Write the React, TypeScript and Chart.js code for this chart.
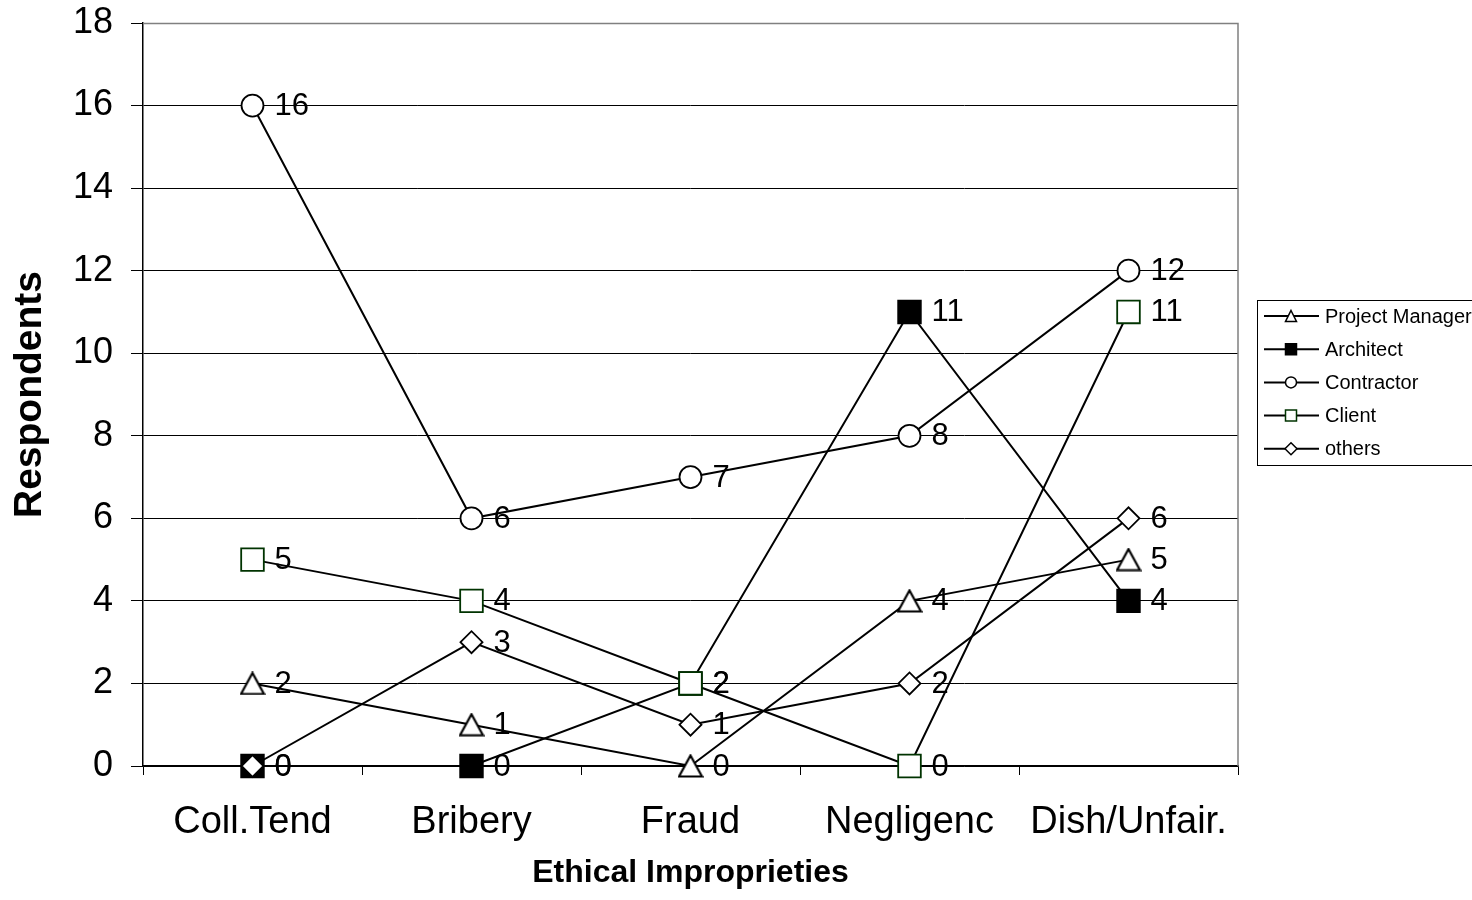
import React, { useEffect, useRef } from "react";
import { Chart, registerables } from "chart.js";

Chart.register(...registerables);

const categories = ["Coll.Tend", "Bribery", "Fraud", "Negligenc", "Dish/Unfair."];
const projectManager = [2, 1, 0, 4, 5];
const architect = [0, 0, 2, 11, 4];
const contractor = [16, 6, 7, 8, 12];
const client = [5, 4, 2, 0, 11];
const others = [0, 3, 1, 2, 6];
const seriesNames = ["Project Manager", "Architect", "Contractor", "Client", "others"];
const yTicks = [0, 2, 4, 6, 8, 10, 12, 14, 16, 18];

const FONT = "'Liberation Sans', Arial, sans-serif";

type Mk = { style: string; fill: string; stroke: string };
const markers: Mk[] = [
  { style: "triangle", fill: "#ffffff", stroke: "#000000" },
  { style: "rect", fill: "#000000", stroke: "#000000" },
  { style: "circle", fill: "#ffffff", stroke: "#000000" },
  { style: "rect", fill: "#ffffff", stroke: "#003300" },
  { style: "rectRot", fill: "#ffffff", stroke: "#000000" },
];

function drawMarker(ctx: CanvasRenderingContext2D, m: Mk, x: number, y: number, s: number) {
  ctx.save();
  ctx.fillStyle = m.fill;
  ctx.strokeStyle = m.stroke;
  ctx.lineWidth = 1.5;
  ctx.beginPath();
  if (m.style === "triangle") {
    ctx.moveTo(x, y - s);
    ctx.lineTo(x + s, y + s);
    ctx.lineTo(x - s, y + s);
    ctx.closePath();
  } else if (m.style === "rect") {
    ctx.rect(x - s, y - s, 2 * s, 2 * s);
  } else if (m.style === "circle") {
    ctx.arc(x, y, s, 0, Math.PI * 2);
  } else {
    ctx.moveTo(x, y - s - 0.5);
    ctx.lineTo(x + s + 0.5, y);
    ctx.lineTo(x, y + s + 0.5);
    ctx.lineTo(x - s - 0.5, y);
    ctx.closePath();
  }
  ctx.fill();
  ctx.stroke();
  ctx.restore();
}

function makeTriangle(): HTMLCanvasElement {
  const c = document.createElement("canvas");
  c.width = 26;
  c.height = 24;
  const ctx = c.getContext("2d")!;
  ctx.fillStyle = "#fff";
  ctx.strokeStyle = "#000";
  ctx.lineWidth = 2.2;
  ctx.beginPath();
  ctx.moveTo(13, 1.5);
  ctx.lineTo(24.5, 22.5);
  ctx.lineTo(1.5, 22.5);
  ctx.closePath();
  ctx.fill();
  ctx.stroke();
  return c;
}

const framePlugin = {
  id: "frame",
  beforeDatasetsDraw(chart: any) {
    const { ctx, chartArea: a } = chart;
    ctx.save();
    ctx.strokeStyle = "#808080";
    ctx.lineWidth = 1.5;
    ctx.beginPath();
    ctx.moveTo(a.left, a.top + 0.5);
    ctx.lineTo(a.right, a.top + 0.5);
    ctx.lineTo(a.right, a.bottom);
    ctx.stroke();
    ctx.restore();
  },
};

const labelsPlugin = {
  id: "pointLabels",
  afterDatasetsDraw(chart: any) {
    const { ctx } = chart;
    ctx.save();
    ctx.font = `31px ${FONT}`;
    ctx.fillStyle = "#000";
    ctx.textAlign = "left";
    ctx.textBaseline = "middle";
    chart.data.datasets.forEach((ds: any, di: number) => {
      const meta = chart.getDatasetMeta(di);
      meta.data.forEach((pt: any, i: number) => {
        ctx.fillText(String(ds.data[i]), pt.x + 22, pt.y + 1);
      });
    });
    ctx.restore();
  },
};

const legendPlugin = {
  id: "customLegend",
  afterDraw(chart: any) {
    const { ctx } = chart;
    const bx = 1257, by = 300, bw = 240, bh = 165;
    ctx.save();
    ctx.fillStyle = "#fff";
    ctx.fillRect(bx, by, bw, bh);
    ctx.strokeStyle = "#000";
    ctx.lineWidth = 1;
    ctx.strokeRect(bx + 0.5, by + 0.5, bw, bh);
    ctx.font = `20px ${FONT}`;
    ctx.textBaseline = "middle";
    ctx.textAlign = "left";
    seriesNames.forEach((name, i) => {
      const y = 316 + i * 33.2;
      ctx.strokeStyle = "#000";
      ctx.lineWidth = 2;
      ctx.beginPath();
      ctx.moveTo(1264, y);
      ctx.lineTo(1319, y);
      ctx.stroke();
      drawMarker(ctx, markers[i], 1291, y, 5.5);
      ctx.fillStyle = "#000";
      ctx.fillText(name, 1325, y + 1);
    });
    ctx.restore();
  },
};

export default function App() {
  const ref = useRef<HTMLCanvasElement>(null);
  useEffect(() => {
    document.body.style.margin = "0";
    const series = [projectManager, architect, contractor, client, others];
    const radii = [13, 16, 11, 16, 11];
    const orders = [4, 3, 2, 1, 0];
    const tri = makeTriangle();
    const chart = new Chart(ref.current!, {
      type: "line",
      data: {
        labels: categories,
        datasets: series.map((d, i) => ({
          label: seriesNames[i],
          data: d,
          borderColor: "#000",
          borderWidth: 2,
          pointStyle: (i === 0 ? tri : markers[i].style) as any,
          pointRadius: radii[i],
          pointBackgroundColor: markers[i].fill,
          pointBorderColor: markers[i].stroke,
          pointBorderWidth: 1.8,
          tension: 0,
          fill: false,
          clip: false as any,
          order: orders[i],
        })),
      },
      options: {
        animation: false,
        responsive: false,
        maintainAspectRatio: false,
        layout: { padding: { top: 23, right: 234, left: 0, bottom: 0 } },
        plugins: { legend: { display: false }, tooltip: { enabled: false } },
        scales: {
          x: {
            type: "category",
            offset: true,
            grid: { drawOnChartArea: false, drawTicks: true, tickLength: 9, offset: true, color: "#000", lineWidth: 1 },
            border: { color: "#000", width: 1.5 },
            ticks: { font: { family: FONT, size: 38 }, color: "#000", padding: 25, maxRotation: 0, autoSkip: false },
            title: { display: true, text: "Ethical Improprieties", font: { family: FONT, size: 32, weight: "bold" }, color: "#000", padding: { top: 0, bottom: 8 } },
            afterFit: (s: any) => { s.height = 134; s.paddingLeft = 0; s.paddingRight = 0; },
          },
          y: {
            min: 0,
            max: 18,
            afterBuildTicks: (s: any) => { s.ticks = yTicks.map((v) => ({ value: v })); },
            grid: { color: "#000", lineWidth: 1, tickLength: 12, drawTicks: true },
            border: { color: "#000", width: 1.5 },
            ticks: { font: { family: FONT, size: 36 }, color: "#000", padding: 18 },
            title: { display: true, text: "Respondents", font: { family: FONT, size: 39, weight: "bold" }, color: "#000", padding: { top: 7, bottom: 0 } },
            afterFit: (s: any) => { s.width = 143; s.paddingTop = 0; s.paddingBottom = 0; },
          },
        },
      },
      plugins: [framePlugin, labelsPlugin, legendPlugin],
    });
    return () => chart.destroy();
  }, []);
  return (
    <div style={{ width: 1472, height: 900, background: "#fff" }}>
      <canvas ref={ref} width={1472} height={900} style={{ display: "block" }} />
    </div>
  );
}
